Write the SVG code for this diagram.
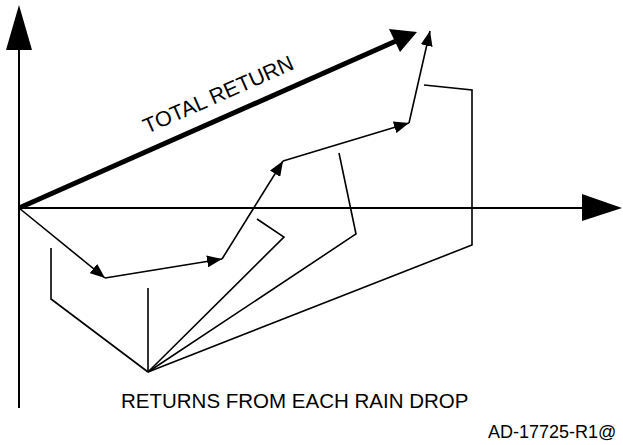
<svg xmlns="http://www.w3.org/2000/svg" width="623" height="445" viewBox="0 0 623 445">
<style>
.ax{stroke:#000;stroke-width:2;fill:none}
.ln{stroke:#000;stroke-width:1.6;fill:none;stroke-linejoin:miter}
.hd{fill:#000;stroke:none}
.tx{font-family:"Liberation Sans",Arial,sans-serif;fill:#000}
</style>
<defs>
<marker id="ah" markerUnits="userSpaceOnUse" markerWidth="16" markerHeight="12" refX="15" refY="6" orient="auto">
<path d="M0,0 L15,6 L0,12 Z" fill="#000"/>
</marker>
</defs>
<rect width="623" height="445" fill="#fff"/>
<g id="axes">
<line class="ax" x1="19" y1="48" x2="19" y2="408"/>
<polygon class="hd" points="19,5 6,50 32,50"/>
<line class="ax" x1="19" y1="208" x2="584" y2="208"/>
<polygon class="hd" points="582,194 582,221 622,208"/>
</g>
<g id="total-return">
<line x1="19" y1="208" x2="396" y2="41" stroke="#000" stroke-width="5"/>
<polygon class="hd" points="389,29 417,32 400,52"/>
<text class="tx" font-size="21.5" transform="translate(147,134) rotate(-23.8)">TOTAL RETURN</text>
</g>
<g id="connectors">
<line class="ln" x1="19" y1="208" x2="105" y2="278" marker-end="url(#ah)"/>
<line class="ln" x1="105" y1="278" x2="222" y2="259" marker-end="url(#ah)"/>
<line class="ln" x1="222" y1="259" x2="283" y2="161" marker-end="url(#ah)"/>
<line class="ln" x1="283" y1="161" x2="409" y2="123" marker-end="url(#ah)"/>
<line class="ln" x1="409" y1="123" x2="430" y2="31" marker-end="url(#ah)"/>
</g>
<g id="rain-drops">
<polyline class="ln" points="51,248 51,299 148,372"/>
<polyline class="ln" points="148,288 148,372"/>
<polyline class="ln" points="257,219 284,237 148,372"/>
<polyline class="ln" points="339,153 356,234 148,372"/>
<polyline class="ln" points="424,85 472,90 472,245 148,372"/>
</g>
<g id="labels">
<text class="tx" font-size="20.5" x="121" y="408">RETURNS FROM EACH RAIN DROP</text>
<text class="tx" font-size="18" x="488" y="438">AD-17725-R1@</text>
</g>
</svg>
